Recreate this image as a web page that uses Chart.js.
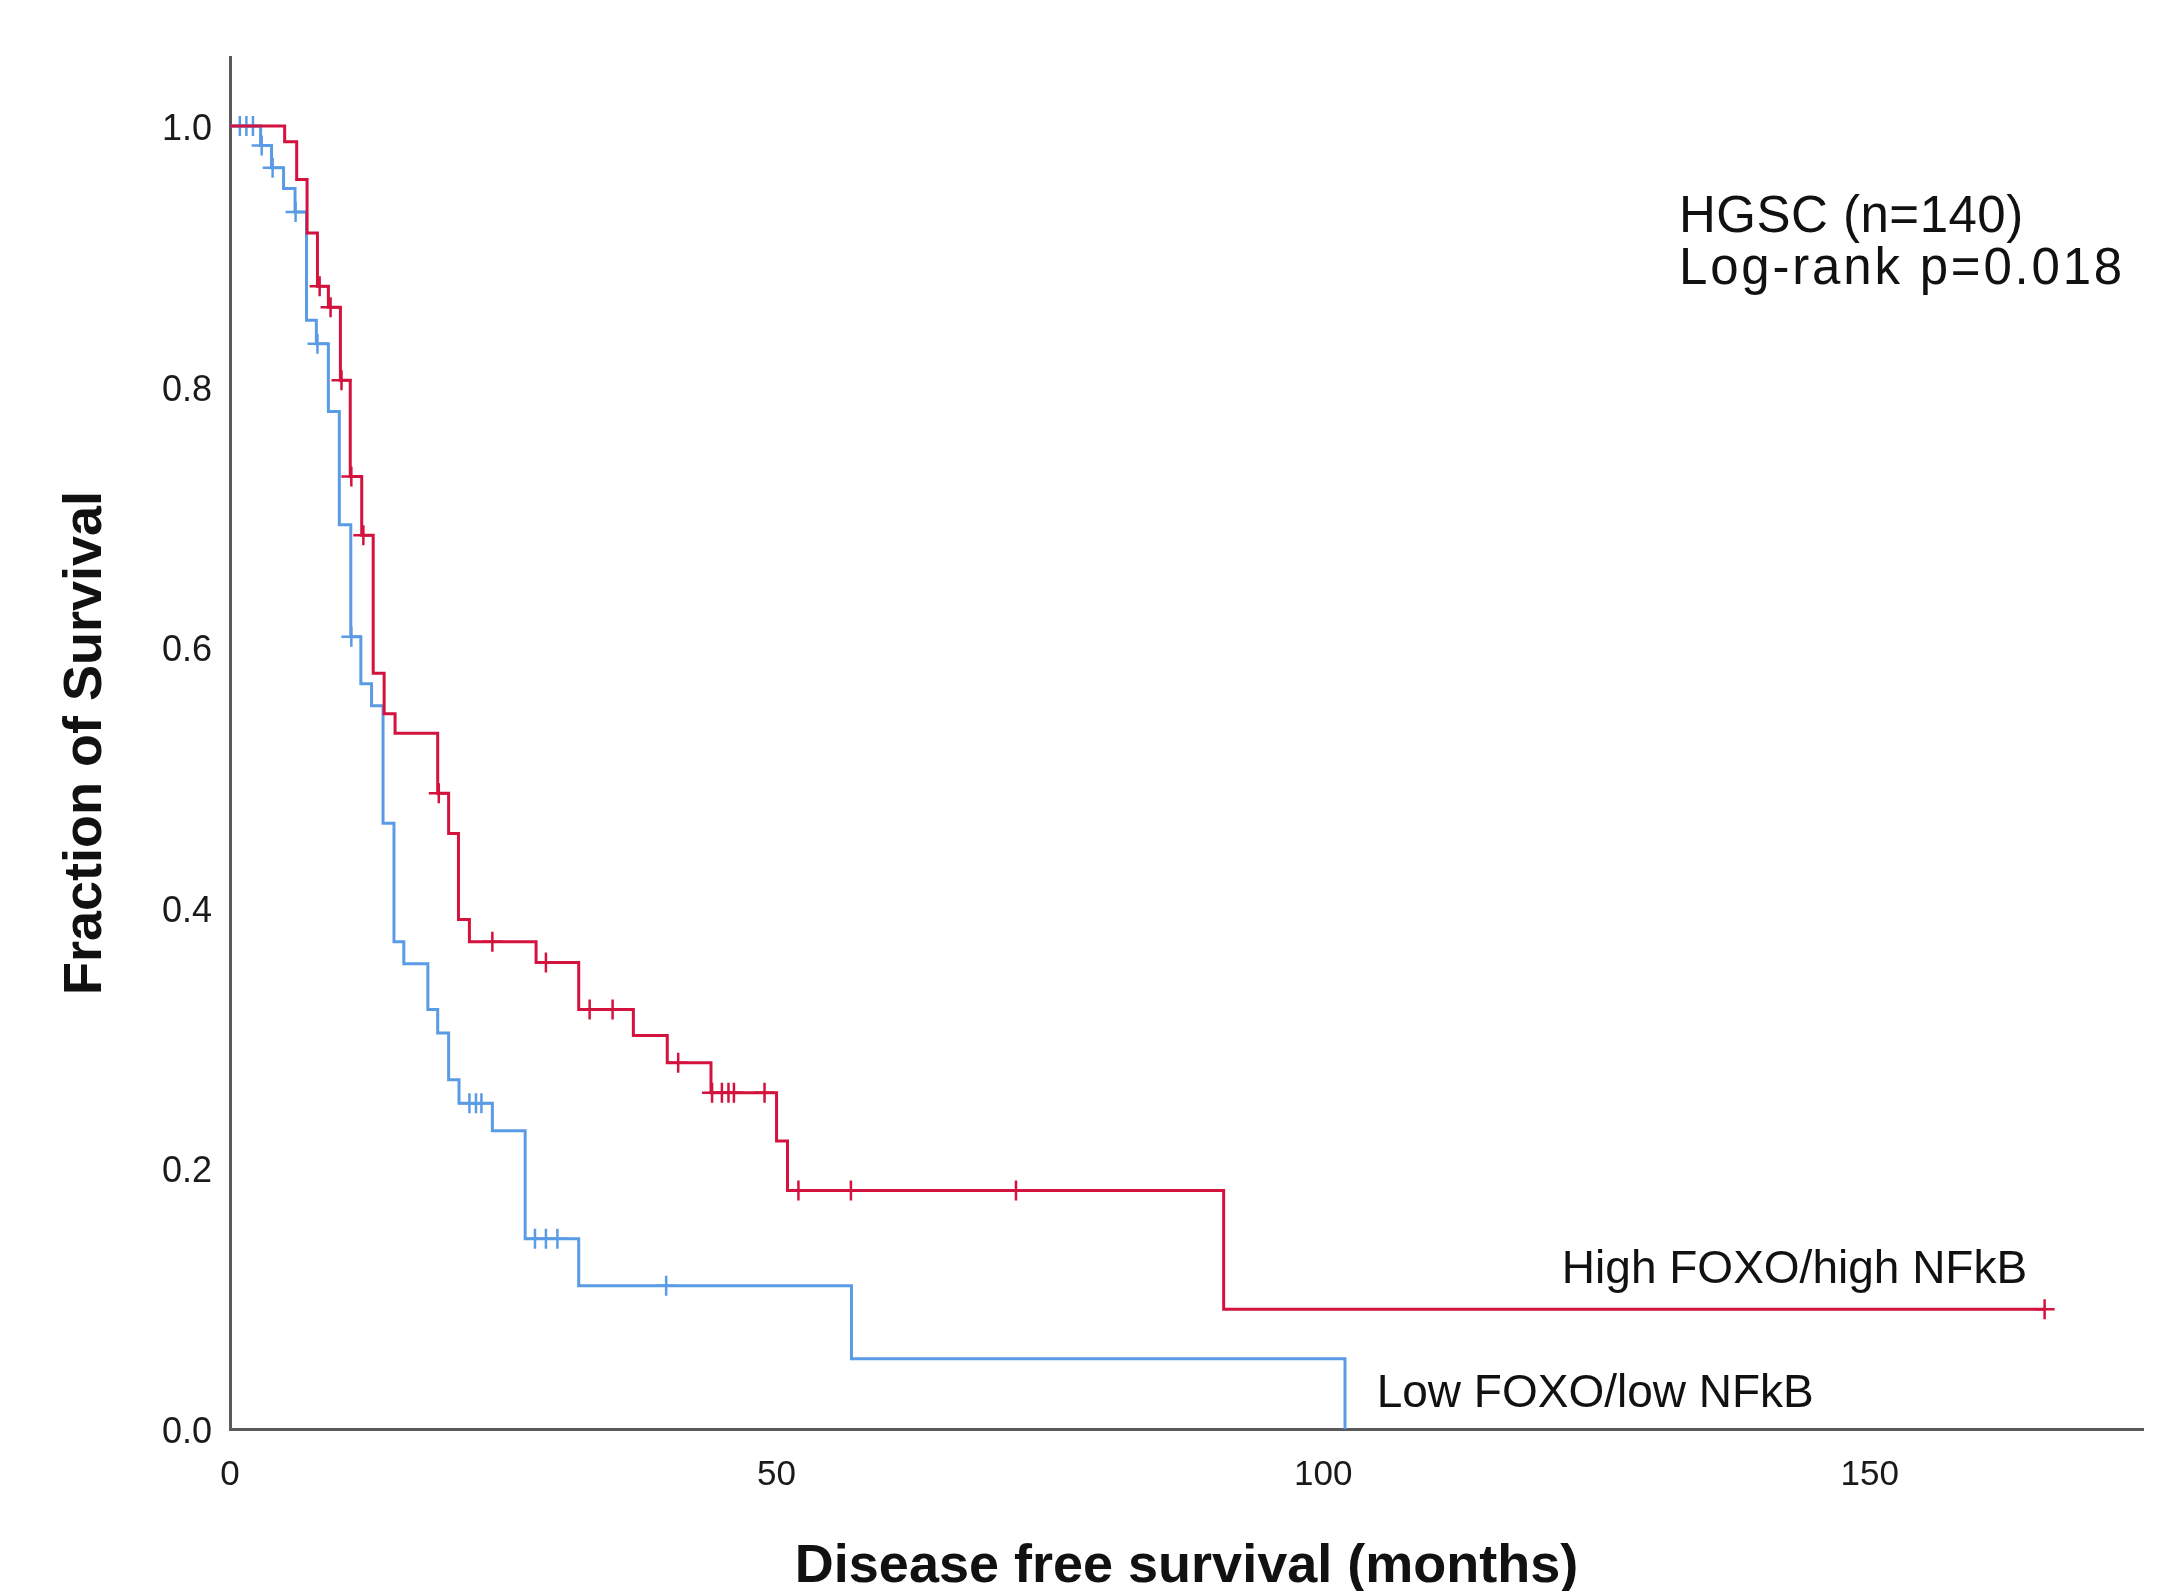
<!DOCTYPE html>
<html>
<head>
<meta charset="utf-8">
<script src="https://cdn.jsdelivr.net/npm/chart.js@4.4.0/dist/chart.umd.min.js"></script>
<style>
  html, body { margin: 0; padding: 0; background: #fff; }
  canvas { display: block; }
</style>
</head>
<body>
<canvas id="kmChart" width="2175" height="1591"></canvas>
<script>
// months where each curve steps down, and the survival level after the step
const highTimes = [5.0, 6.1, 7.05, 8.0, 9.0, 10.1, 11.0, 12.05, 13.1, 14.1, 15.1, 19.0, 20.0, 20.9, 21.9, 28.0, 31.9, 36.9, 40.0, 44.0, 50.0, 51.0, 90.9];
const highSurv = [0.988, 0.959, 0.918, 0.877, 0.861, 0.805, 0.731, 0.686, 0.580, 0.549, 0.534, 0.488, 0.457, 0.391, 0.374, 0.358, 0.322, 0.302, 0.281, 0.258, 0.221, 0.183, 0.092];
const highCensored = [8.2, 9.2, 10.2, 11.1, 12.2, 19.1, 24.0, 28.9, 32.9, 35.0, 41.0, 44.1, 45.0, 45.6, 46.1, 48.9, 52.0, 56.8, 71.9, 166.0];
const highLastMonth = 166.0;

const lowTimes = [2.8, 3.8, 4.9, 5.95, 7.0, 7.9, 9.0, 10.0, 11.05, 11.97, 12.95, 14.0, 15.0, 15.9, 18.1, 19.0, 20.0, 20.95, 24.0, 27.0, 31.9, 56.85, 102.0];
const lowSurv = [0.985, 0.968, 0.952, 0.934, 0.851, 0.833, 0.781, 0.694, 0.608, 0.572, 0.555, 0.465, 0.374, 0.357, 0.322, 0.304, 0.268, 0.250, 0.229, 0.146, 0.110, 0.054, 0.0];
const lowCensored = [0.9, 1.5, 2.1, 2.9, 3.9, 6.0, 8.0, 11.1, 21.9, 22.5, 23.0, 27.9, 28.9, 29.95, 39.9];

const xTicks = [0, 50, 100, 150];
const yTicks = [0, 0.2, 0.4, 0.6, 0.8, 1.0];
const groupNames = ["High FOXO/high NFkB", "Low FOXO/low NFkB"];
const noteLines = ["HGSC (n=140)", "Log-rank p=0.018"];

const RED = "#d3123e";
const BLUE = "#5a9be6";
const FONT = "'Liberation Sans', Arial, sans-serif";

function stepPoints(times, surv, lastMonth) {
    let pts = [{ x: 0, y: 1 }];
    for (let i = 0; i < times.length; i++) {
        pts.push({ x: times[i], y: surv[i] });
    }
    if (lastMonth > times[times.length - 1]) {
        pts.push({ x: lastMonth, y: surv[surv.length - 1] });
    }
    return pts;
}

function levelAt(times, surv, t) {
    let s = 1;
    for (let i = 0; i < times.length; i++) {
        if (t >= times[i]) s = surv[i];
    }
    return s;
}

function censorPoints(times, surv, marks) {
    return marks.map(t => ({ x: t, y: levelAt(times, surv, t) }));
}

const textPlugin = {
    id: "kmText",
    afterDraw(chart) {
        const ctx = chart.ctx;
        const x = chart.scales.x;
        const y = chart.scales.y;
        ctx.save();
        ctx.fillStyle = "#111";
        ctx.textBaseline = "alphabetic";

        ctx.font = "51px " + FONT;
        ctx.textAlign = "left";
        ctx.letterSpacing = "0.5px";
        ctx.fillText(noteLines[0], 1679, 232);
        ctx.letterSpacing = "2.8px";
        ctx.fillText(noteLines[1], 1679, 284);
        ctx.letterSpacing = "0px";

        ctx.font = "46px " + FONT;
        ctx.textAlign = "right";
        ctx.fillText(groupNames[0], x.getPixelForValue(164.4), y.getPixelForValue(0.112));
        ctx.textAlign = "left";
        ctx.fillText(groupNames[1], x.getPixelForValue(104.9), y.getPixelForValue(0.017));
        ctx.restore();
    }
};

document.addEventListener("DOMContentLoaded", function () {
    let ctx = document.getElementById("kmChart").getContext("2d");

    new Chart(ctx, {
        type: "line",
        data: {
            datasets: [{
                label: groupNames[0],
                data: stepPoints(highTimes, highSurv, highLastMonth),
                borderColor: RED,
                borderWidth: 3,
                stepped: true,
                pointRadius: 0,
                fill: false
            }, {
                label: groupNames[1],
                data: stepPoints(lowTimes, lowSurv, 0),
                borderColor: BLUE,
                borderWidth: 3,
                stepped: true,
                pointRadius: 0,
                fill: false
            }, {
                label: groupNames[0] + " censored",
                data: censorPoints(highTimes, highSurv, highCensored),
                showLine: false,
                pointStyle: "cross",
                pointRadius: 10,
                pointBorderWidth: 2.5,
                borderColor: RED,
                clip: false
            }, {
                label: groupNames[1] + " censored",
                data: censorPoints(lowTimes, lowSurv, lowCensored),
                showLine: false,
                pointStyle: "cross",
                pointRadius: 10,
                pointBorderWidth: 2.5,
                borderColor: BLUE,
                clip: false
            }]
        },
        options: {
            responsive: false,
            animation: false,
            devicePixelRatio: 1,
            layout: { padding: { left: 0, right: 32, top: 57, bottom: 0 } },
            plugins: {
                legend: { display: false },
                tooltip: { enabled: false }
            },
            scales: {
                x: {
                    type: "linear",
                    min: 0,
                    max: 175,
                    grid: { display: false, drawTicks: false },
                    border: { display: true, color: "#5a5a5a", width: 3 },
                    afterBuildTicks: s => { s.ticks = xTicks.map(v => ({ value: v })); },
                    afterFit: s => { s.height = 162; },
                    ticks: {
                        padding: 25,
                        color: "#1a1a1a",
                        font: { family: FONT, size: 35 },
                        callback: v => String(v)
                    },
                    title: {
                        display: true,
                        text: "Disease free survival (months)",
                        color: "#111",
                        font: { family: FONT, size: 54, weight: "bold", lineHeight: 0.9 },
                        padding: { top: 0, bottom: 0 }
                    }
                },
                y: {
                    min: 0,
                    max: 1.053,
                    grid: { display: false, drawTicks: false },
                    border: { display: true, color: "#5a5a5a", width: 3 },
                    afterBuildTicks: s => { s.ticks = yTicks.map(v => ({ value: v })); },
                    afterFit: s => { s.width = 230; },
                    ticks: {
                        padding: 18,
                        labelOffset: 4,
                        color: "#1a1a1a",
                        font: { family: FONT, size: 36 },
                        callback: v => Number(v).toFixed(1)
                    },
                    title: {
                        display: true,
                        text: "Fraction of Survival",
                        color: "#111",
                        font: { family: FONT, size: 54, weight: "bold", lineHeight: 1 },
                        padding: { top: 59, bottom: 0 }
                    }
                }
            }
        },
        plugins: [textPlugin]
    });
});
</script>
</body>
</html>
